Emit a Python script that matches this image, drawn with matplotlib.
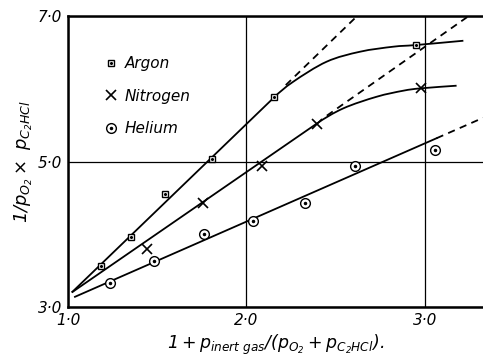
import matplotlib
matplotlib.use("Agg")
import matplotlib.pyplot as plt
from matplotlib.path import Path
from matplotlib.patches import PathPatch

plt.rcParams['font.family'] = ['DejaVu Sans']
plt.rcParams['mathtext.fontset'] = 'custom'
plt.rcParams['mathtext.rm'] = 'DejaVu Sans:italic'
plt.rcParams['mathtext.it'] = 'DejaVu Sans:italic'
plt.rcParams['mathtext.bf'] = 'DejaVu Sans:italic:bold'

# ---- data ----
argon_x = [1.183, 1.353, 1.543, 1.808, 2.154, 2.950]
argon_y = [3.57, 3.96, 4.55, 5.04, 5.88, 6.60]

nitrogen_x = [1.444, 1.754, 2.085, 2.393, 2.978]
nitrogen_y = [3.80, 4.43, 4.94, 5.52, 6.01]

helium_x = [1.235, 1.482, 1.764, 2.038, 2.330, 2.610, 3.056]
helium_y = [3.33, 3.63, 4.00, 4.18, 4.43, 4.94, 5.16]

# drawn fit curves (knots): straight part, then bend
argon_curve_x = [1.021, 2.154, 2.262, 2.449, 2.636, 2.822, 2.950, 3.215]
argon_curve_y = [3.20, 5.88, 6.097, 6.372, 6.509, 6.578, 6.601, 6.660]
argon_dash_x = [2.22, 2.62]
argon_dash_y = [6.05, 7.00]

nitrogen_curve_x = [1.021, 2.393, 2.542, 2.729, 2.878, 2.978, 3.177]
nitrogen_curve_y = [3.20, 5.52, 5.73, 5.89, 5.973, 6.006, 6.042]
nitrogen_dash_x = [2.45, 3.245]
nitrogen_dash_y = [5.63, 7.00]

helium_line_x = [1.039, 3.065]
helium_line_y = [3.14, 5.32]
helium_dash_x = [3.065, 3.325]
helium_dash_y = [5.32, 5.60]

x_ticks = [1.0, 2.0, 3.0]
x_ticklabels = ['1·0', '2·0', '3·0']
y_ticks = [3.0, 5.0, 7.0]
y_ticklabels = ['3·0', '5·0', '7·0']


def smooth_path(xs, ys):
    """Straight first segment, then a smooth Bezier bend through the knots."""
    pts = list(zip(xs, ys))
    verts = [pts[0], pts[1]]
    codes = [Path.MOVETO, Path.LINETO]
    n = len(pts)
    for i in range(1, n - 1):
        p0, p1, p2 = pts[i - 1], pts[i], pts[i + 1]
        p3 = pts[i + 2] if i + 2 < n else pts[i + 1]
        if i == 1:
            seg = ((p2[0] - p1[0]) ** 2 + (p2[1] - p1[1]) ** 2) ** 0.5
            prev = ((p1[0] - p0[0]) ** 2 + (p1[1] - p0[1]) ** 2) ** 0.5
            k = seg / prev / 3
            c1 = (p1[0] + (p1[0] - p0[0]) * k, p1[1] + (p1[1] - p0[1]) * k)
        else:
            c1 = (p1[0] + (p2[0] - p0[0]) / 6, p1[1] + (p2[1] - p0[1]) / 6)
        c2 = (p2[0] - (p3[0] - p1[0]) / 6, p2[1] - (p3[1] - p1[1]) / 6)
        verts += [c1, c2, p2]
        codes += [Path.CURVE4] * 3
    return Path(verts, codes)


fig = plt.figure(figsize=(4.83, 3.60), dpi=100)
ax = fig.add_axes([68/483, 53/360, 1 - 68/483, 291/360])
ax.set_xlim(1.0, 3.325)
ax.set_ylim(3.0, 7.0)

lw = 1.3
for cx, cy in [(argon_curve_x, argon_curve_y), (nitrogen_curve_x, nitrogen_curve_y)]:
    ax.add_patch(PathPatch(smooth_path(cx, cy), fill=False, edgecolor='black', lw=lw, zorder=2))
ax.plot(argon_dash_x, argon_dash_y, color='black', lw=lw, ls=(0, (4, 3)), zorder=2)
ax.plot(nitrogen_dash_x, nitrogen_dash_y, color='black', lw=lw, ls=(0, (4, 3)), zorder=2)
ax.plot(helium_line_x, helium_line_y, color='black', lw=lw, zorder=2)
ax.plot(helium_dash_x, helium_dash_y, color='black', lw=lw, ls=(0, (4, 3)), zorder=2)

a1, = ax.plot(argon_x, argon_y, ls='none', marker='s', ms=5, mfc='white', mec='black', mew=1.0, zorder=3)
a2, = ax.plot(argon_x, argon_y, ls='none', marker='o', ms=1.2, mfc='black', mec='black', zorder=4)
n1, = ax.plot(nitrogen_x, nitrogen_y, ls='none', marker='x', ms=6.5, mec='black', mew=1.2, zorder=3)
h1, = ax.plot(helium_x, helium_y, ls='none', marker='o', ms=7, mfc='white', mec='black', mew=1.0, zorder=3)
h2, = ax.plot(helium_x, helium_y, ls='none', marker='o', ms=1.5, mfc='black', mec='black', zorder=4)

leg = ax.legend([(a1, a2), n1, (h1, h2)], ['Argon', 'Nitrogen', 'Helium'],
                loc='upper left', bbox_to_anchor=(0.055, 0.91), frameon=False,
                handlelength=0.8, handletextpad=0.5, labelspacing=1.15,
                prop={'style': 'italic', 'size': 11})

ax.set_xticks(x_ticks)
ax.set_xticklabels(x_ticklabels, fontsize=11, style='italic')
ax.set_yticks(y_ticks)
ax.set_yticklabels(y_ticklabels, fontsize=11, style='italic')
ax.tick_params(length=0, pad=4)
ax.grid(True, color='black', lw=0.9)
ax.set_axisbelow(True)

for s in ['left', 'top', 'bottom']:
    ax.spines[s].set_linewidth(1.8)
ax.spines['right'].set_visible(False)

ax.set_xlabel(r'$1+p_{inert\ gas}/(p_{O_2}+p_{C_2HCl}).$', fontsize=12.5, labelpad=4)
ax.set_ylabel(r'$1/p_{O_2}\times\ p_{C_2HCl}$', fontsize=13, labelpad=2)

fig.savefig('out.png', dpi=100)
